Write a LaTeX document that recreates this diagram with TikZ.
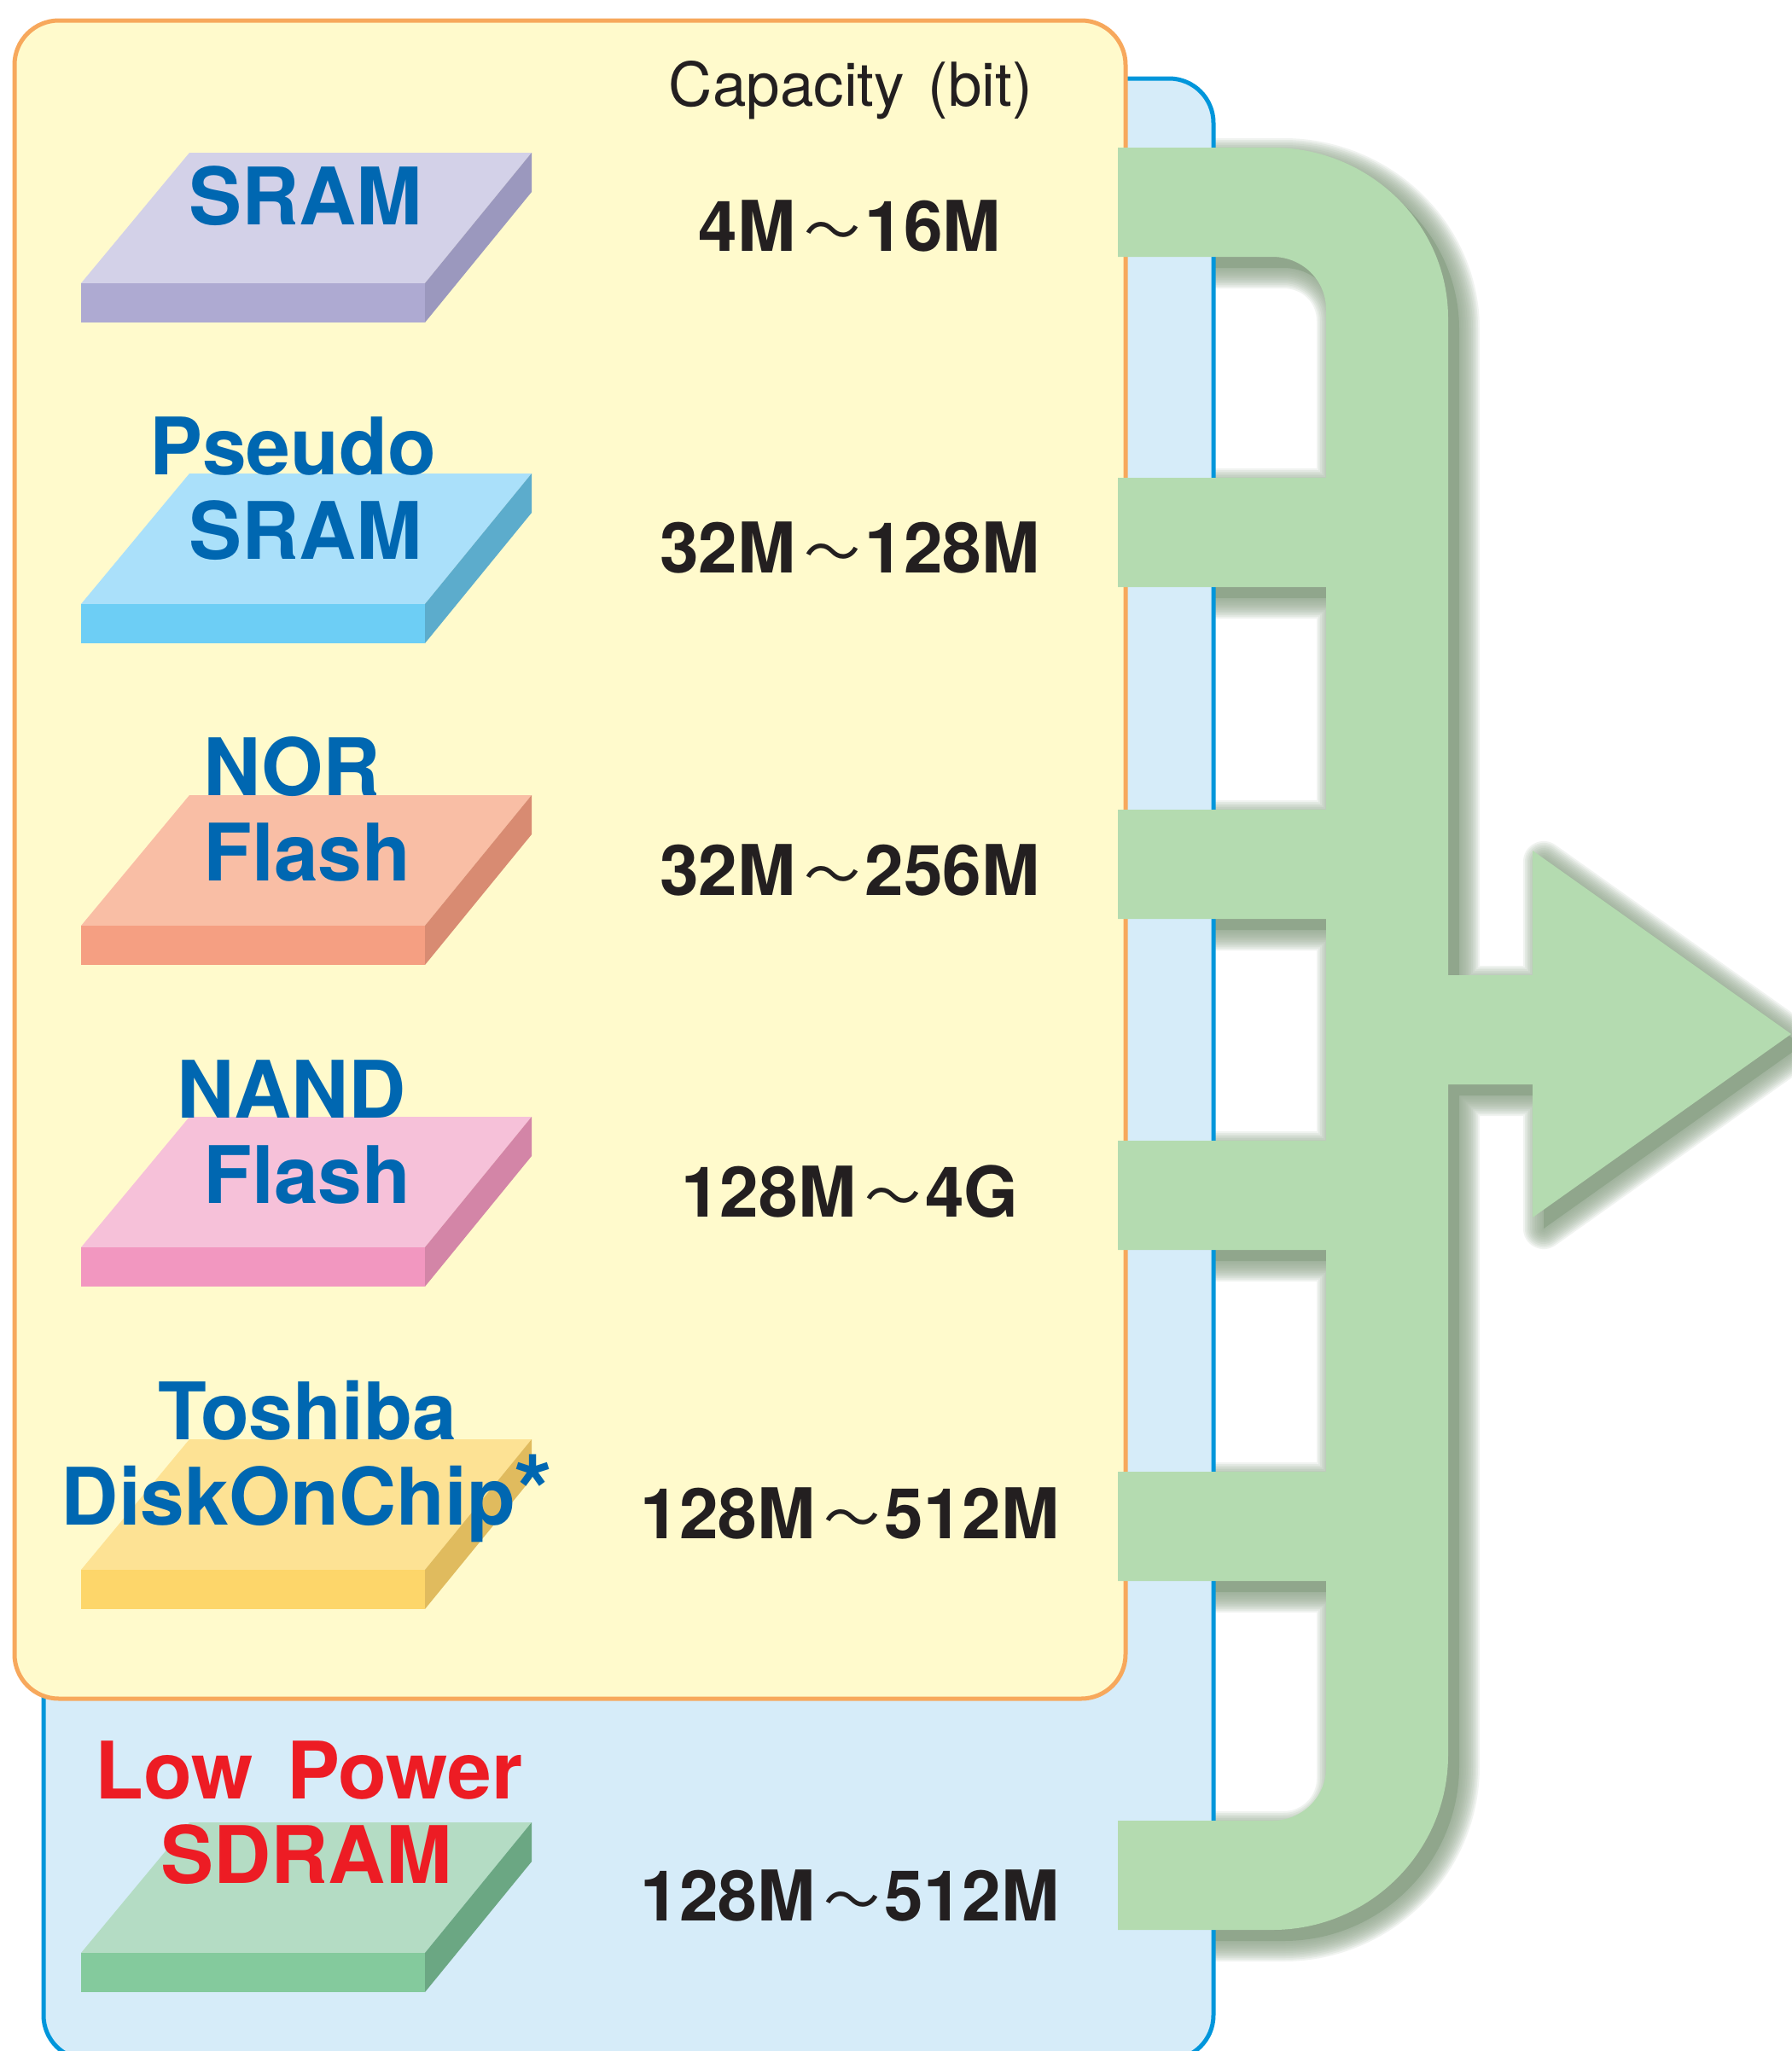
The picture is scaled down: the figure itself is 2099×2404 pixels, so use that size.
\documentclass[tikz,border=0pt]{standalone}
\usepackage{fontspec}
\setmainfont{TeX Gyre Heros}
\newfontfamily\cjk{Noto Sans CJK JP}
\definecolor{yellowF}{HTML}{FFFACC}
\definecolor{orangeB}{HTML}{F7A85C}
\definecolor{blueF}{HTML}{D6ECF9}
\definecolor{blueB}{HTML}{0096DB}
\definecolor{greenF}{HTML}{B4DBB0}
\definecolor{shadowC}{HTML}{90A68C}
\definecolor{labelblue}{HTML}{0067B1}
\definecolor{labelred}{HTML}{ED1C24}
\definecolor{numblack}{HTML}{231F20}
\definecolor{sramT}{HTML}{D3D1E8}\definecolor{sramF}{HTML}{AEAAD2}\definecolor{sramS}{HTML}{9B98BE}
\definecolor{psT}{HTML}{AAE0FA}\definecolor{psF}{HTML}{6DCEF5}\definecolor{psS}{HTML}{5CACCC}
\definecolor{norT}{HTML}{F9BEA5}\definecolor{norF}{HTML}{F59F82}\definecolor{norS}{HTML}{D88B72}
\definecolor{nandT}{HTML}{F6C1D9}\definecolor{nandF}{HTML}{F297C0}\definecolor{nandS}{HTML}{D385A7}
\definecolor{docT}{HTML}{FDE294}\definecolor{docF}{HTML}{FDD66A}\definecolor{docS}{HTML}{E0BB5E}
\definecolor{lpT}{HTML}{B4DCC4}\definecolor{lpF}{HTML}{84CA9D}\definecolor{lpS}{HTML}{6BA783}
\newcommand\chipat[4]{%
  \fill[#2] (222,#1) -- (623,#1) -- (498,#1+153) -- (95,#1+153) -- cycle;
  \fill[#3] (95,#1+153) rectangle (498,#1+199);
  \fill[#4] (498,#1+153) -- (623,#1) -- (623,#1+46) -- (498,#1+199) -- cycle;}
\newcommand\wv{\kern10pt{\cjk\mdseries\fontsize{66}{70}\selectfont 〜}\kern5pt}
\def\greenpath{(1310,173) -- (1491,173) .. controls (1605,173) and (1697,263) .. (1697,373)
  -- (1697,1143) -- (1796,1143) -- (1796,997) -- (2099,1212) -- (1796,1427) -- (1796,1271)
  -- (1697,1271) -- (1697,2057) .. controls (1697,2170) and (1605,2262) .. (1491,2262)
  -- (1310,2262) -- (1310,2134) -- (1491,2134) .. controls (1526,2134) and (1554,2106) .. (1554,2072)
  -- (1554,1853) -- (1310,1853) -- (1310,1725) -- (1554,1725) -- (1554,1465) -- (1310,1465)
  -- (1310,1337) -- (1554,1337) -- (1554,1077) -- (1310,1077) -- (1310,949) -- (1554,949)
  -- (1554,688) -- (1310,688) -- (1310,560) -- (1554,560) -- (1554,363)
  .. controls (1554,328) and (1526,301) .. (1491,301) -- (1310,301) -- cycle}
\tikzset{
  lbl/.style={font=\fontsize{93}{100}\selectfont\bfseries, text=labelblue, anchor=base, inner sep=0pt},
  lblred/.style={lbl, text=labelred},
  num/.style={font=\fontsize{82}{90}\selectfont\bfseries, text=numblack, anchor=base, inner sep=0pt},
  capstyle/.style={font=\fontsize{71}{80}\selectfont, text=numblack, anchor=base, inner sep=0pt},
}
\begin{document}
\begin{tikzpicture}[x=1pt,y=-1pt]
\useasboundingbox (0,0) rectangle (2099,2404);
\fill[white] (0,0) rectangle (2099,2404);
% soft shadow of the green connector
\begin{scope}[shift={(13,13)}]
  \foreach \w in {4,8,...,48}{
    \draw[shadowC, line width=\w pt, draw opacity=0.13, line join=round] \greenpath;}
  \fill[shadowC] \greenpath;
\end{scope}
% boxes
\draw[blueB, line width=5pt, fill=blueF, rounded corners=52pt] (51,92) rectangle (1422,2414);
\draw[orangeB, line width=5pt, fill=yellowF, rounded corners=52pt] (17,24) rectangle (1319,1991);
% green connector
\fill[greenF] \greenpath;
% chips
\chipat{179}{sramT}{sramF}{sramS}
\chipat{555}{psT}{psF}{psS}
\chipat{932}{norT}{norF}{norS}
\chipat{1309}{nandT}{nandF}{nandS}
\chipat{1687}{docT}{docF}{docS}
\chipat{2136}{lpT}{lpF}{lpS}
% labels
\node[lbl] (sram) at (358,263) {SRAM};
\node[lbl] (pseudo1) at (343,556) {Pseudo};
\node[lbl] (pseudo2) at (358,655) {SRAM};
\node[lbl] (nor1) at (342,932) {NOR};
\node[lbl] (nor2) at (360,1032) {Flash};
\node[lbl] (nand1) at (342,1310) {NAND};
\node[lbl] (nand2) at (360,1410) {Flash};
\node[lbl] (doc1) at (360,1687) {Toshiba};
\node[lbl] (doc2) at (338,1787) {DiskOnChip\rlap{\kern-2pt\raisebox{-2pt}{\fontsize{116}{116}\selectfont *}}};
\node[lblred] (lp1) at (362,2108) {Low\kern14pt{} Power};
\node[lblred] (lp2) at (359,2207) {SDRAM};
% capacities
\node[capstyle] (caphead) at (997,124) {Capacity\kern8pt{} (bit)};
\node[num] (c1) at (996,294) {4M\wv16M};
\node[num] (c2) at (996,671) {32M\wv128M};
\node[num] (c3) at (996,1049) {32M\wv256M};
\node[num] (c4) at (996,1426) {128M\wv4G};
\node[num] (c5) at (996,1803) {128M\wv512M};
\node[num] (c6) at (996,2251) {128M\wv512M};
\end{tikzpicture}
\end{document}
